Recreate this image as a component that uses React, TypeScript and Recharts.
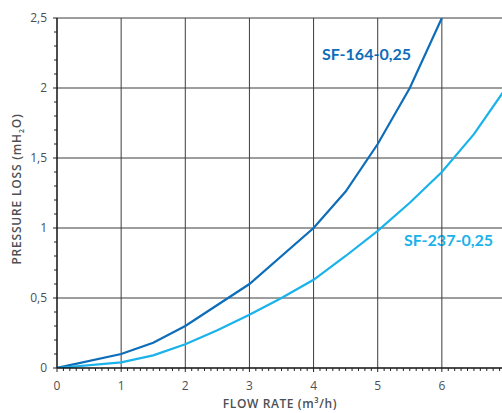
import React from "react";
import {
  LineChart,
  Line,
  XAxis,
  YAxis,
  ReferenceLine,
  Customized,
} from "recharts";

// Flow rate (m3/h) and pressure loss (mH2O)
const sf164Flow = [0, 1, 1.5, 2, 3, 4, 4.5, 5, 5.5, 6];
const sf164Loss = [0, 0.1, 0.18, 0.3, 0.6, 1.0, 1.26, 1.6, 2.0, 2.5];

const sf237Flow = [0, 1, 1.5, 2, 2.5, 3, 3.5, 4, 4.5, 5, 5.5, 6, 6.5, 7];
const sf237Loss = [0, 0.04, 0.09, 0.17, 0.27, 0.38, 0.5, 0.63, 0.8, 0.98, 1.18, 1.4, 1.67, 2.0];

const xMajorTicks = [0, 1, 2, 3, 4, 5, 6, 7];
const yMajorTicks = [0, 0.5, 1, 1.5, 2, 2.5];
const xGrid = [1, 2, 3, 4, 5, 6, 7];
const yGrid = [0.5, 1, 1.5, 2, 2.5];

const DARK = "#0d6db9";
const CYAN = "#1ab2ea";
const TEXT = "#4d4f52";
const FONT = "'Open Sans', sans-serif";

const minorTicks = (max: number, step: number) => {
  const out: number[] = [];
  const n = Math.round(max / step);
  for (let i = 0; i <= n; i++) out.push(Math.round(i * step * 100) / 100);
  return out;
};

const xTicks = minorTicks(7, 0.1);
const yTicks = minorTicks(2.5, 0.1);

const isMajor = (v: number, arr: number[]) => arr.some((m) => Math.abs(m - v) < 1e-6);

const fmt = (v: number) => String(v).replace(".", ",");

// Build data table for the chart
const data = (() => {
  const xs = Array.from(new Set([...sf164Flow, ...sf237Flow])).sort((a, b) => a - b);
  return xs.map((x) => {
    const i = sf164Flow.indexOf(x);
    const j = sf237Flow.indexOf(x);
    return {
      flow: x,
      sf164: i >= 0 ? sf164Loss[i] : null,
      sf237: j >= 0 ? sf237Loss[j] : null,
    };
  });
})();

const XTick = (props: any) => {
  const { x, y, payload } = props;
  const v = payload.value;
  const major = isMajor(v, xMajorTicks);
  return (
    <g>
      <line x1={x} x2={x} y1={y} y2={y + (major ? 4 : 3)} stroke="#222" strokeWidth={1} />
      {major && v < 7 && (
        <text
          x={x}
          y={y + 22}
          textAnchor="middle"
          fontFamily={FONT}
          fontSize={12}
          fontWeight={500}
          fill={TEXT}
        >
          {fmt(v)}
        </text>
      )}
    </g>
  );
};

const YTick = (props: any) => {
  const { x, y, payload } = props;
  const v = payload.value;
  const major = isMajor(v, yMajorTicks);
  return (
    <g>
      <line x1={x} x2={x - (major ? 4 : 3)} y1={y} y2={y} stroke="#222" strokeWidth={1} />
      {major && (
        <text
          x={x - 10}
          y={y + 4}
          textAnchor="end"
          fontFamily={FONT}
          fontSize={12}
          fontWeight={500}
          fill={TEXT}
        >
          {fmt(v)}
        </text>
      )}
    </g>
  );
};

const Texts = () => (
  <g>
    <text
      x={280}
      y={408}
      textAnchor="middle"
      fontFamily={FONT}
      fontSize={12}
      fontWeight={600}
      letterSpacing={0.6}
      fill={TEXT}
    >
      FLOW RATE (m³/h)
    </text>
    <text
      x={0}
      y={0}
      transform="translate(21,189) rotate(-90)"
      textAnchor="middle"
      fontFamily={FONT}
      fontSize={12}
      fontWeight={600}
      letterSpacing={0.8}
      fill={TEXT}
    >
      PRESSURE LOSS (mH
      <tspan fontSize={7} dy={3}>2</tspan>
      <tspan dy={-3}>O)</tspan>
    </text>
    <text x={322} y={60} fontFamily="Lato, sans-serif" fontSize={16} fontWeight={700} fill={DARK}>
      SF-164-0,25
    </text>
    <text x={404} y={246} fontFamily="Lato, sans-serif" fontSize={16} fontWeight={700} fill={CYAN}>
      SF-237-0,25
    </text>
  </g>
);

export default function App() {
  return (
    <div
      style={{
        position: "absolute",
        left: 0,
        top: 0,
        width: 502,
        height: 413,
        overflow: "hidden",
        background: "#fff",
      }}
    >
      <LineChart
        width={510}
        height={413}
        data={data}
        margin={{ top: 18, right: 4, bottom: 15, left: 12 }}
      >
        <XAxis
          dataKey="flow"
          type="number"
          domain={[0, 7]}
          ticks={xTicks}
          interval={0}
          tickSize={0}
          tickMargin={0}
          tick={<XTick />}
          height={30}
          axisLine={{ stroke: "#111", strokeWidth: 1.5 }}
          allowDataOverflow
        />
        <YAxis
          type="number"
          domain={[0, 2.5]}
          ticks={yTicks}
          interval={0}
          tickSize={0}
          tickMargin={0}
          tick={<YTick />}
          width={45}
          axisLine={{ stroke: "#111", strokeWidth: 1.5 }}
          allowDataOverflow
        />
        {xGrid.map((v) => (
          <ReferenceLine key={"x" + v} x={v} stroke="#3c3c3c" strokeWidth={1} ifOverflow="extendDomain" />
        ))}
        {yGrid.map((v) => (
          <ReferenceLine key={"y" + v} y={v} stroke="#3c3c3c" strokeWidth={1} />
        ))}
        <Line
          dataKey="sf164"
          type="linear"
          stroke={DARK}
          strokeWidth={2.2}
          dot={false}
          connectNulls
          isAnimationActive={false}
        />
        <Line
          dataKey="sf237"
          type="linear"
          stroke={CYAN}
          strokeWidth={2.2}
          dot={false}
          connectNulls
          isAnimationActive={false}
        />
        <Customized component={Texts} />
      </LineChart>
    </div>
  );
}
